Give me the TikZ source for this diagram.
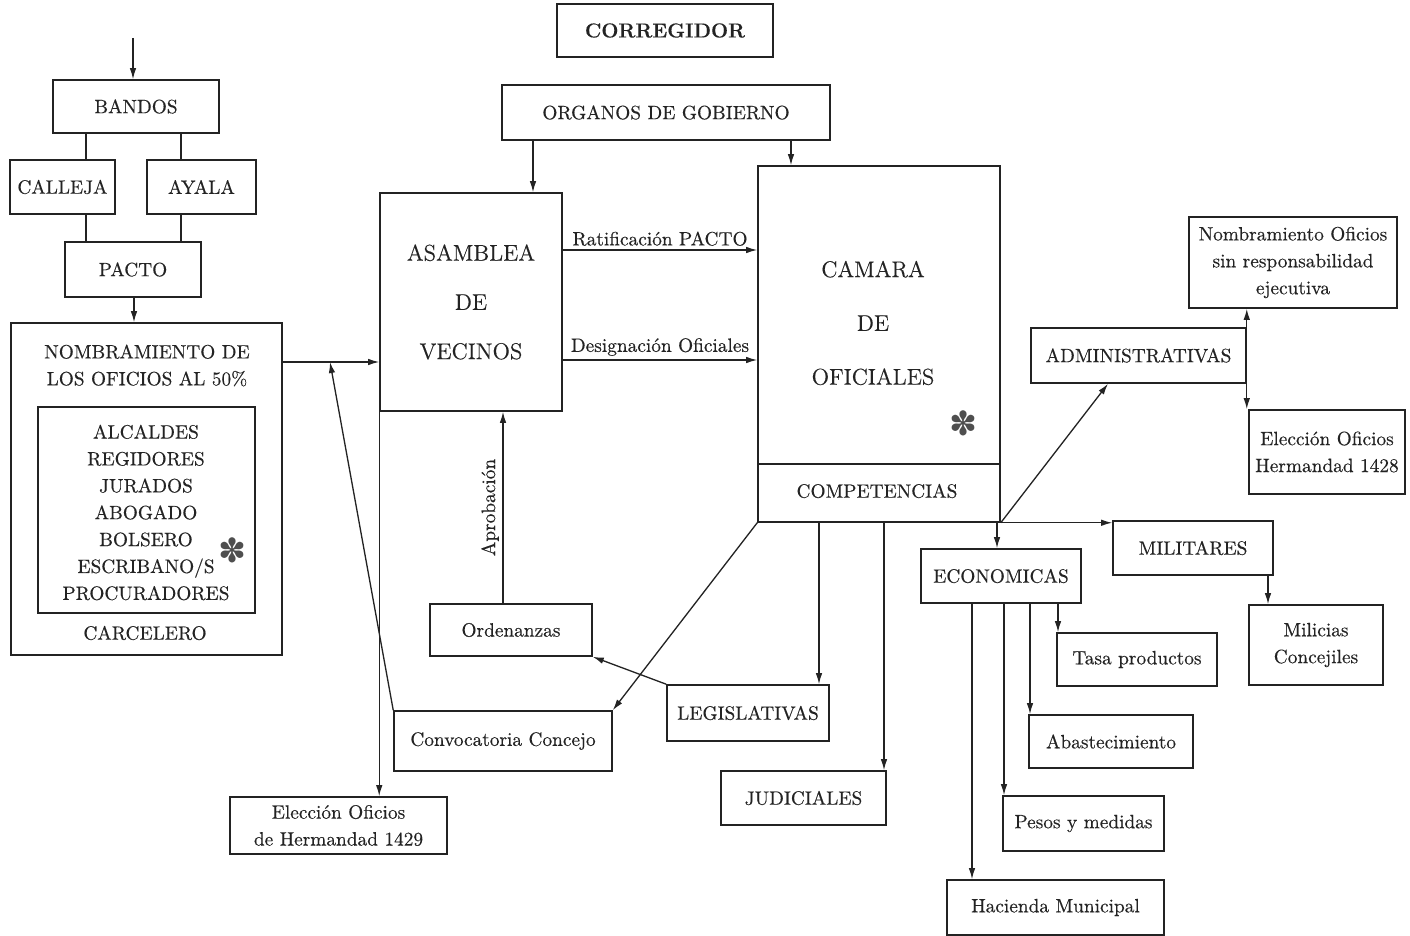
\documentclass[tikz,border=0pt]{standalone}
\usepackage{fontspec}
\setmainfont{Latin Modern Roman}[FakeBold=0.35]
\newfontfamily\starfont{DejaVu Sans}
\usepackage{tikz}
\usetikzlibrary{arrows.meta, calc}
\definecolor{inkgray}{RGB}{35, 35, 35}

\begin{document}
\begin{tikzpicture}[x=0.02cm, y=-0.02cm, color=inkgray,
  box/.style={draw, line width=0.9pt, inner sep=0pt, align=center, font=\fontsize{11}{15.3}\selectfont},
  lbl/.style={font=\fontsize{11}{15.3}\selectfont, inner sep=2pt, align=center},
  big/.style={font=\fontsize{13}{28}\selectfont},
  star/.style={font=\starfont\fontsize{19}{19}\selectfont, inner sep=0pt, text=inkgray!80},
  link/.style={line width=0.75pt},
  arr/.style={link, -{Latex[length=2.2mm, width=1.3mm]}}]
  \useasboundingbox (0,0) rectangle (1410,936);

  % --- Top: corregidor and organos de gobierno ---
  \node[box, font=\fontsize{11.5}{14}\selectfont\bfseries, minimum width=4.32cm, minimum height=1.06cm] (corregidor) at (665,30.5) {CORREGIDOR};
  \node[box, minimum width=6.56cm, minimum height=1.10cm] (organos) at (666,112.5) {ORGANOS DE GOBIERNO};

  % --- Left: bandos and pacto ---
  \coordinate (bandosin) at (133,38);
  \node[box, minimum width=3.32cm, minimum height=1.06cm] (bandos) at (136,106.5) {BANDOS};
  \node[box, minimum width=2.10cm, minimum height=1.08cm] (calleja) at (62.5,187) {CALLEJA};
  \node[box, minimum width=2.18cm, minimum height=1.08cm] (ayala) at (201.5,187) {AYALA};
  \node[box, minimum width=2.72cm, minimum height=1.10cm] (pacto) at (133,269.5) {PACTO};

  % --- Left: nombramiento de los oficios ---
  \node[box, minimum width=5.42cm, minimum height=6.64cm] (nombram) at (146.5,489) {};
  \node[lbl] (nombramtxt) at (147,365.5) {NOMBRAMIENTO DE\\LOS OFICIOS AL 50\%};
  \node[box, minimum width=4.34cm, minimum height=4.12cm] (oficios) at (146.5,510) {};
  \node[lbl] (oficiostxt) at (146,512.5) {ALCALDES\\REGIDORES\\JURADOS\\ABOGADO\\BOLSERO\\ESCRIBANO/S\\PROCURADORES};
  \node[star] (star1) at (232,550) {✽};
  \node[lbl] (carcelero) at (145,633) {CARCELERO};

  % --- Centre: asamblea and camara ---
  \node[box, big, minimum width=3.64cm, minimum height=4.36cm] (asamblea) at (471,302) {ASAMBLEA\\DE\\VECINOS};
  \node[box, minimum width=4.84cm, minimum height=7.12cm] (camara) at (879,344) {};
  \node[font=\fontsize{13}{30.6}\selectfont, align=center] (camaratxt) at (873,323) {CAMARA\\DE\\OFICIALES};
  \node[star] (star2) at (963,423) {✽};
  \node[lbl] (competencias) at (877,491) {COMPETENCIAS};
  \draw[link] (camara.west |- 0,464) -- (camara.east |- 0,464);

  % --- Bottom centre ---
  \node[box, minimum width=3.24cm, minimum height=1.04cm] (ordenanzas) at (511,630) {Ordenanzas};
  \node[box, minimum width=4.36cm, minimum height=1.20cm] (convocatoria) at (503,741) {Convocatoria Concejo};
  \node[box, minimum width=4.34cm, minimum height=1.14cm] (elec1429) at (338.5,825.5) {Elección Oficios\\de Hermandad 1429};
  \node[box, minimum width=3.24cm, minimum height=1.12cm] (legislativas) at (748,713) {LEGISLATIVAS};
  \node[box, minimum width=3.30cm, minimum height=1.08cm] (judiciales) at (803.5,798) {JUDICIALES};

  % --- Right: competencias ---
  \node[box, minimum width=4.30cm, minimum height=1.10cm] (admin) at (1138.5,355.5) {ADMINISTRATIVAS};
  \node[box, minimum width=4.16cm, minimum height=1.82cm] (nombofi) at (1293,262.5) {Nombramiento Oficios\\sin responsabilidad\\ejecutiva};
  \node[box, minimum width=3.12cm, minimum height=1.68cm] (elec1428) at (1327,452) {Elección Oficios\\Hermandad 1428};
  \node[box, minimum width=3.20cm, minimum height=1.08cm] (militares) at (1193,548) {MILITARES};
  \node[box, minimum width=2.68cm, minimum height=1.60cm] (milicias) at (1316,645) {Milicias\\Concejiles};
  \node[box, minimum width=3.20cm, minimum height=1.08cm] (economicas) at (1001,576) {ECONOMICAS};
  \node[box, minimum width=3.20cm, minimum height=1.06cm] (tasa) at (1137,659.5) {Tasa productos};
  \node[box, minimum width=3.28cm, minimum height=1.06cm] (abast) at (1111,741.5) {Abastecimiento};
  \node[box, minimum width=3.22cm, minimum height=1.10cm] (pesos) at (1083.5,823.5) {Pesos y medidas};
  \node[box, minimum width=4.34cm, minimum height=1.10cm] (hacienda) at (1055.5,907.5) {Hacienda Municipal};

  % --- Connectors, left ---
  \draw[arr] (bandosin) -- (bandos.north -| bandosin);
  \draw[link] (bandos.south -| 86,0) -- (calleja.north -| 86,0);
  \draw[link] (bandos.south -| 181,0) -- (ayala.north -| 181,0);
  \draw[link] (calleja.south -| 86,0) -- (pacto.north -| 86,0);
  \draw[link] (ayala.south -| 181,0) -- (pacto.north -| 181,0);
  \draw[arr] (pacto.south -| 134,0) -- (nombram.north -| 134,0);
  \draw[arr] (nombram.east |- 0,362) -- (asamblea.west |- 0,362);
  \coordinate (junction) at (330,362);
  \draw[arr] (convocatoria.north west) -- (junction);

  % --- Connectors, centre ---
  \draw[arr] (organos.south -| 533,0) -- (asamblea.north -| 533,0);
  \draw[arr] (organos.south -| 791,0) -- (camara.north -| 791,0);
  \draw[arr] (asamblea.east |- 0,250) -- node[lbl, above] (ratif) {Ratificación PACTO} (camara.west |- 0,250);
  \draw[arr] (asamblea.east |- 0,360) -- node[lbl, above] (design) {Designación Oficiales} (camara.west |- 0,360);
  \draw[arr] (ordenanzas.north -| 503,0) -- node[lbl, above, sloped] (aprob) {Aprobación} (asamblea.south -| 503,0);
  \draw[arr] (asamblea.south west) -- (elec1429.north -| asamblea.south west);
  \draw[arr] (camara.south west) -- (convocatoria.north east);
  \draw[arr] (legislativas.north west) -- (ordenanzas.south east);
  \draw[arr] (camara.south -| 819,0) -- (legislativas.north -| 819,0);
  \draw[arr] (camara.south -| 884,0) -- (judiciales.north -| 884,0);

  % --- Connectors, right ---
  \draw[arr] (camara.south east) -- (militares.west |- camara.south east);
  \draw[arr] (camara.south east) -- (admin.south -| 1108,0);
  \draw[arr] (camara.south east -| 997,0) -- (economicas.north -| 997,0);
  \draw[arr] (admin.north east) -- (nombofi.south -| admin.north east);
  \draw[arr] (admin.south east) -- (elec1428.north -| admin.south east);
  \draw[arr] (militares.south -| 1268,0) -- (milicias.north -| 1268,0);
  \foreach \x/\dest in {972/hacienda, 1004/pesos, 1030/abast, 1058/tasa} {
    \draw[arr] (economicas.south -| \x,0) -- (\dest.north -| \x,0);
  }
\end{tikzpicture}
\end{document}
